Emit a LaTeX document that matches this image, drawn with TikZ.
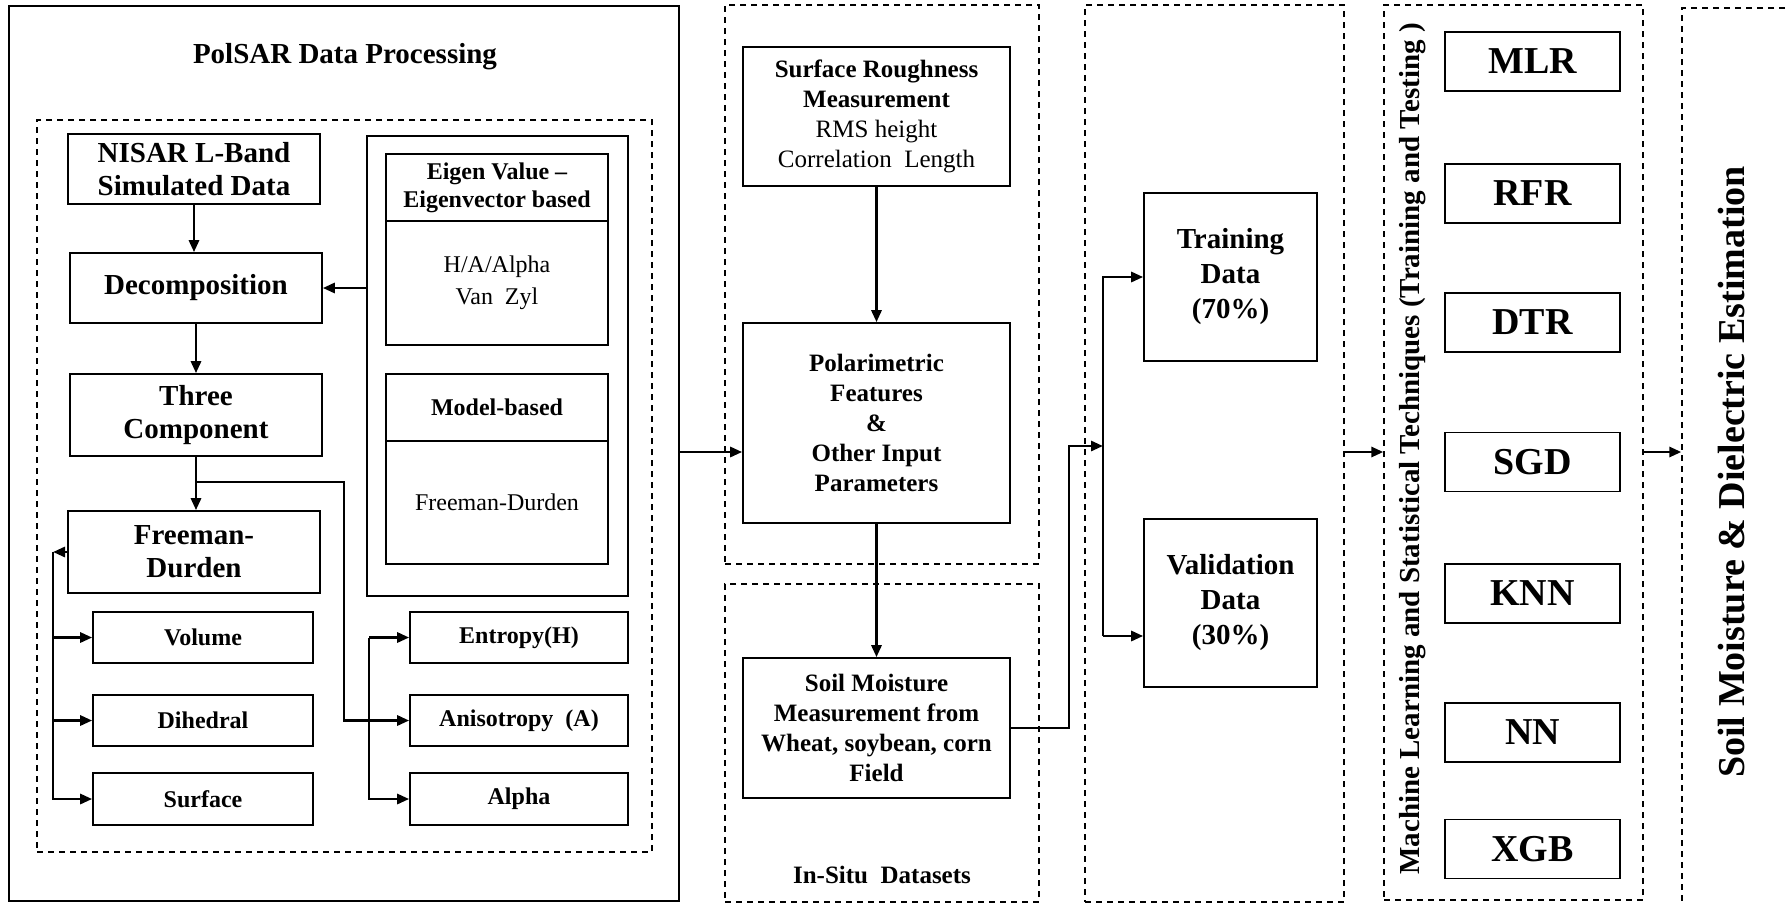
\documentclass[tikz,border=0pt]{standalone}
\usepackage{fontspec}
\setmainfont{Liberation Serif}
\usetikzlibrary{arrows.meta}

\newcommand{\fhead}{\fontsize{29}{33}\selectfont\bfseries}
\newcommand{\fsub}{\fontsize{24}{28}\selectfont\bfseries}
\newcommand{\fplain}{\fontsize{24}{32}\selectfont}
\newcommand{\fmid}{\fontsize{25}{30}\selectfont\bfseries}
\newcommand{\fdata}{\fontsize{29}{35}\selectfont\bfseries}
\newcommand{\fml}{\fontsize{38}{40}\selectfont\bfseries}

\begin{document}
\begin{tikzpicture}[x=1pt,y=-1pt,line join=miter,
    box/.style={draw,line width=1.6pt,align=center,inner sep=2pt},
    dbox/.style={draw,line width=1.3pt,dash pattern=on 6pt off 5pt},
    arr/.style={line width=2.8pt,-{Triangle[length=12pt,width=10pt]}}]

    \useasboundingbox (0,0) rectangle (1786,903);

    % PolSAR block
    \node[box,line width=2pt,minimum width=670,minimum height=895] (pbox) at (344,453.5) {};
    \node[font=\fhead] (ttl) at (345,57) {PolSAR Data Processing};
    \node[dbox,minimum width=615,minimum height=732] (inbox) at (344.5,486) {};

    \node[box,font=\fhead,minimum width=252,minimum height=70] (nisar) at (194,169) {NISAR L-Band\\Simulated Data};
    \node[box,font=\fhead,minimum width=252,minimum height=70] (dec) at (196,288) {Decomposition};
    \node[box,font=\fhead,minimum width=252,minimum height=82] (tc) at (196,415) {Three\\Component};
    \node[box,font=\fhead,minimum width=252,minimum height=82] (fd) at (194,552) {Freeman-\\Durden};
    \node[box,font=\fsub,minimum width=220,minimum height=51] (vol) at (203,637.5) {Volume};
    \node[box,font=\fsub,minimum width=220,minimum height=51] (dih) at (203,720.5) {Dihedral};
    \node[box,font=\fsub,minimum width=220,minimum height=52] (surf) at (203,799) {Surface};

    \node[box,minimum width=261,minimum height=460] (grp) at (497.5,366) {};
    \node[box,font=\fsub,minimum width=222,minimum height=67] (evh) at (497,187.5) {Eigen Value --\\Eigenvector based};
    \node[box,font=\fplain,minimum width=222,minimum height=124] (evb) at (497,283) {H/A/Alpha\\Van~~Zyl};
    \node[box,font=\fsub,minimum width=222,minimum height=67] (mh) at (497,407.5) {Model-based};
    \node[box,font=\fplain,minimum width=222,minimum height=123] (mb) at (497,502.5) {Freeman-Durden};
    \node[box,font=\fsub,minimum width=218,minimum height=51] (ent) at (519,637.5) {Entropy(H)};
    \node[box,font=\fsub,minimum width=218,minimum height=51] (ani) at (519,720.5) {Anisotropy~~(A)};
    \node[box,font=\fsub,minimum width=218,minimum height=52] (alp) at (519,799) {Alpha};

    \draw[arr] (nisar.south) -- (nisar.south |- dec.north);
    \draw[arr] (dec.south) -- (dec.south |- tc.north);
    \draw[arr] (tc.south) -- (tc.south |- fd.north);
    \draw[arr] (dec.east -| grp.west) -- (dec.east);

    \coordinate (lc) at (53,552);
    \draw[arr] (fd.west) -- (lc);
    \draw[arr] (lc) |- (surf.west);
    \draw[arr] (lc |- vol.west) -- (vol.west);
    \draw[arr] (lc |- dih.west) -- (dih.west);

    \coordinate (tb) at (196,482);
    \coordinate (tr) at (344,482);
    \draw[arr] (tb) -- (tr) |- (ani.west);
    \coordinate (rc) at (369,637.5);
    \draw[arr] (rc) -- (ent.west);
    \draw[arr] (rc) |- (alp.west);

    % input parameters and in-situ data
    \node[dbox,minimum width=314,minimum height=559] (upbox) at (882,284.5) {};
    \node[dbox,minimum width=314,minimum height=318] (lowbox) at (882,743) {};
    \node[box,font=\fmid,minimum width=267,minimum height=139] (sr) at (876.5,116.5) {Surface Roughness\\Measurement\\{\mdseries RMS height}\\{\mdseries Correlation~~Length}};
    \node[box,font=\fmid,minimum width=267,minimum height=200] (pol) at (876.5,423) {Polarimetric\\Features\\\&\\Other Input\\Parameters};
    \node[box,font=\fmid,minimum width=267,minimum height=140] (soil) at (876.5,728) {Soil Moisture\\Measurement from\\Wheat, soybean, corn\\Field};
    \node[font=\fmid] (insitu) at (882,875) {In-Situ~~Datasets};

    \coordinate (pin) at (679,452);
    \draw[arr] (pin) -- (pin -| pol.west);
    \draw[arr] (sr) -- (pol);
    \draw[arr] (pol) -- (soil);

    % data split
    \node[dbox,minimum width=259,minimum height=897] (col3) at (1214.5,453.5) {};
    \node[box,font=\fdata,minimum width=173,minimum height=168] (train) at (1230.5,277) {Training\\Data\\(70\%)};
    \node[box,font=\fdata,minimum width=173,minimum height=168] (valid) at (1230.5,603) {Validation\\Data\\(30\%)};

    \coordinate (bend) at (1069,446);
    \coordinate (jn) at (1103,446);
    \coordinate (vs) at (1103,636);
    \draw[arr] (soil.east) -| (bend) -- (jn);
    \draw[arr] (vs) |- (train.west);
    \draw[arr] (vs) -- (vs -| valid.west);

    % models
    \node[dbox,minimum width=259,minimum height=895] (col4) at (1513.5,452.5) {};
    \node[rotate=90,font=\fontsize{29}{30}\selectfont\bfseries] (mltxt) at (1413,449) {Machine Learning and Statistical Techniques (Training and Testing )};
    \foreach \nm/\yy in {MLR/61.5,RFR/193.5,DTR/322.5,SGD/462,KNN/593.5,NN/732.5,XGB/849}
        \node[box,font=\fml,minimum width=175,minimum height=59] (\nm) at (1532.5,\yy) {\nm};

    \node[dbox,minimum width=236,minimum height=984] (col5) at (1800,500) {};
    \node[rotate=90,font=\fml] (soiltxt) at (1732,472) {Soil Moisture \& Dielectric Estimation};

    \draw[arr] (col3.east |- pin) -- (col4.west |- pin);
    \draw[arr] (col4.east |- pin) -- (col5.west |- pin);
\end{tikzpicture}
\end{document}
